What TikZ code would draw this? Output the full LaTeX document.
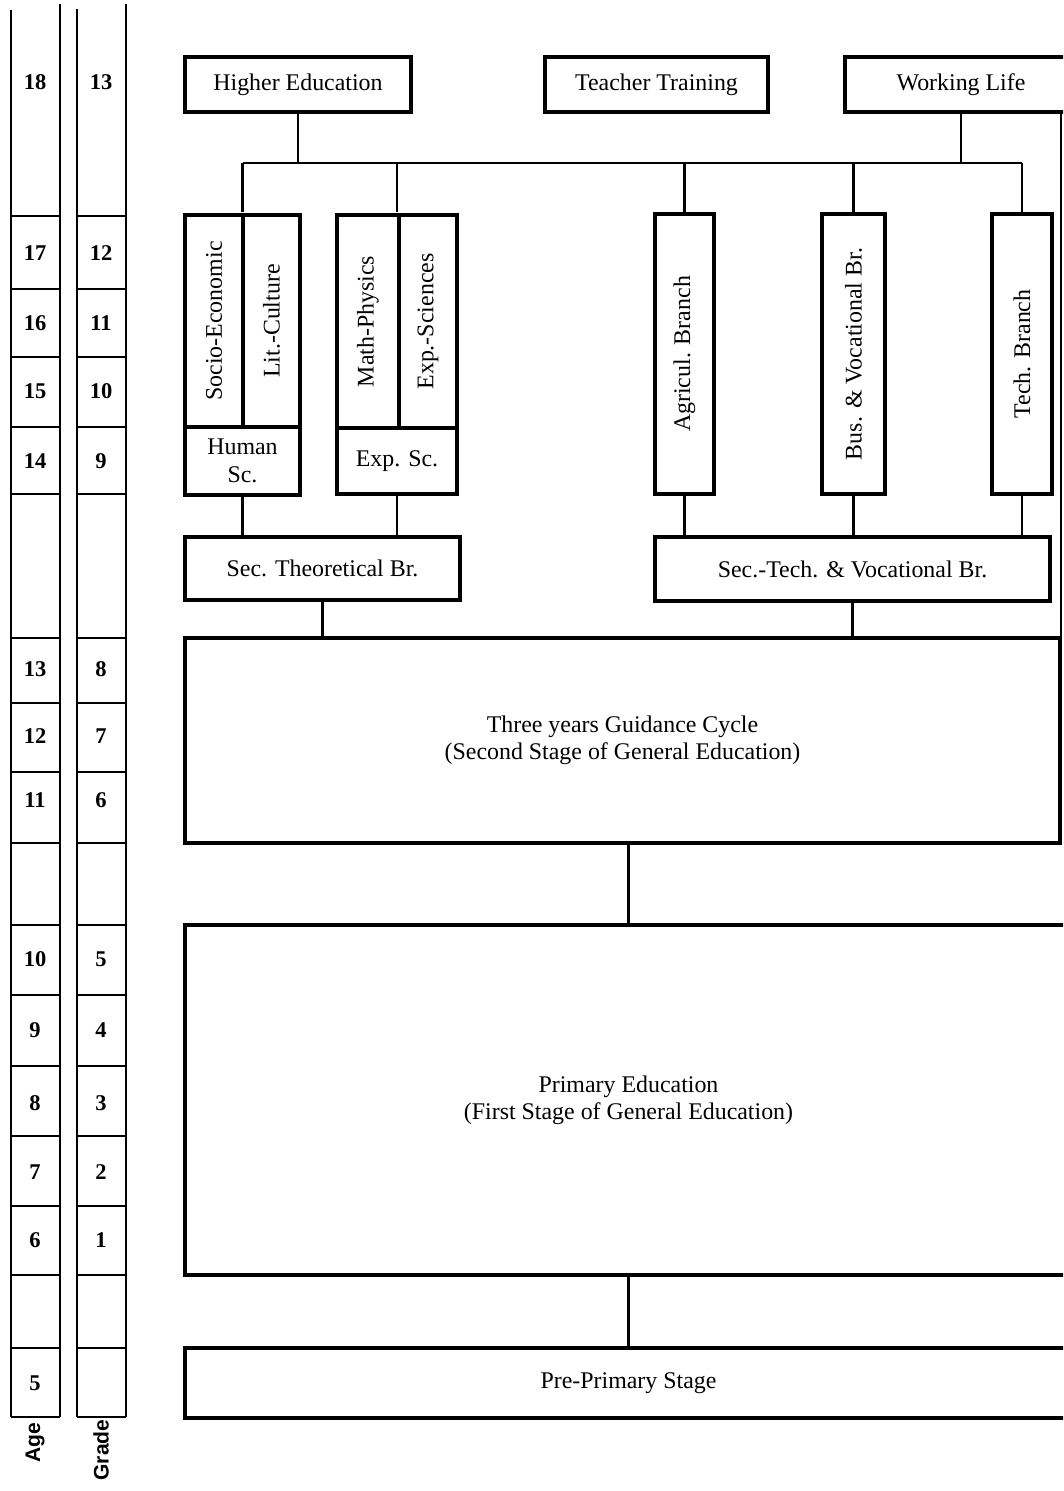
\documentclass[tikz,border=0pt]{standalone}
\usepackage{fontspec}
\setmainfont{Liberation Serif}
\setsansfont{Liberation Sans}
\usepackage{graphicx}
\usepackage{tikz}

\tikzset{
  box/.style={draw,line width=2.5pt,inner sep=0pt,align=center},
  conn/.style={line width=1.5pt},
  col/.style={line width=1.7pt},
  num/.style={font=\fontsize{16}{18}\selectfont\bfseries},
  axis label/.style={font=\fontsize{15}{17}\selectfont\sffamily\bfseries,rotate=90}
}

\begin{document}
\begin{tikzpicture}[x=0.25mm,y=-0.25mm,font=\fontsize{17}{19.5}\selectfont]
      \useasboundingbox (0,0) rectangle (1063,1491);
      \clip (0,0) rectangle (1063,1491);
      % age and grade columns
      \draw[col] (11,10) -- (11,1417) (60,4) -- (60,1417);
      \draw[col] (77,9) -- (77,1417) (126,4) -- (126,1417);
      \foreach \y in {216,289,357,427,494,638,703,772,843,925,995,1066,1136,1206,1275,1348,1417}
        \draw[col] (11,\y) -- (60,\y) (77,\y) -- (126,\y);
      \foreach \a/\g/\y in {18/13/82,17/12/253,16/11/323,15/10/391,14/9/461,13/8/669,12/7/736,11/6/800,10/5/959,9/4/1030,8/3/1103,7/2/1172,6/1/1240}{
        \node[num] (age\a) at (35,\y) {\a};
        \node[num] (grade\g) at (101,\y) {\g};
      }
      \node[num] (age5) at (35,1383) {5};
      \node[axis label] (agelab) at (35,1443) {Age};
      \node[axis label] (gradelab) at (101,1450) {Grade};
      % top row
      \node[box,minimum width=56.5mm,minimum height=13.75mm] (higher) at (298,84.5) {Higher Education};
      \node[box,minimum width=55.75mm,minimum height=13.75mm] (teacher) at (656.5,84.5) {Teacher Training};
      \node[box,minimum width=58mm,minimum height=13.75mm] (working) at (961,84.5) {Working Life};
      % branches
      \node[box,minimum width=14.5mm,minimum height=53mm] (socio) at (214,321) {\rotatebox{90}{Socio-Economic}};
      \node[box,minimum width=14.25mm,minimum height=53mm] (lit) at (271.5,321) {\rotatebox{90}{Lit.-Culture}};
      \node[box,minimum width=28.75mm,minimum height=17mm] (human) at (242.5,461) {Human\\Sc.};
      \node[box,minimum width=15.5mm,minimum height=53.25mm] (math) at (368,321.5) {\rotatebox{90}{Math-Physics}};
      \node[box,minimum width=14.5mm,minimum height=53.25mm] (expsci) at (428,321.5) {\rotatebox{90}{Exp.-Sciences}};
      \node[box,minimum width=30mm,minimum height=16.5mm] (expsc) at (397,461) {Exp. Sc.};
      \node[box,minimum width=14.75mm,minimum height=70mm] (agri) at (684.5,354) {\rotatebox{90}{Agricul. Branch}};
      \node[box,minimum width=15.75mm,minimum height=70mm] (bus) at (853.5,354) {\rotatebox{90}{Bus. \& Vocational Br.}};
      \node[box,minimum width=15mm,minimum height=70mm] (tech) at (1022,354) {\rotatebox{90}{Tech. Branch}};
      % secondary
      \node[box,minimum width=68.75mm,minimum height=15.75mm] (sectheo) at (322.5,568.5) {Sec. Theoretical Br.};
      \node[box,minimum width=98.75mm,minimum height=16mm] (sectech) at (852.5,569) {Sec.-Tech. \& Vocational Br.};
      % general education
      \node[box,minimum width=218.75mm,minimum height=51.25mm] (guid) at (622.5,740.5) {Three years Guidance Cycle\\(Second Stage of General Education)};
      \node[box,minimum width=221.75mm,minimum height=87.5mm] (prim) at (628.5,1100) {Primary Education\\(First Stage of General Education)};
      \node[box,minimum width=221.75mm,minimum height=17.5mm] (pre) at (628.5,1383) {Pre-Primary Stage};
      % connectors
      \coordinate (bar) at (0,163);
      \coordinate (rail) at (1061,0);
      \draw[conn] (higher.south) -- (higher.south |- bar);
      \draw[conn] (working.south) -- (working.south |- bar);
      \draw[conn] (human.north |- bar) -- (tech.north |- bar);
      \foreach \n in {human,expsc,agri,bus,tech}
        \draw[conn] (\n.north |- bar) -- (\n.north |- agri.north);
      \draw[conn] (working.south -| rail) -- (guid.north -| rail);
      \foreach \n in {human,expsc}
        \draw[conn] (\n.south) -- (\n.south |- sectheo.north);
      \foreach \n in {agri,bus,tech}
        \draw[conn] (\n.south) -- (\n.south |- sectech.north);
      \draw[conn] (sectheo.south) -- (sectheo.south |- guid.north);
      \draw[conn] (sectech.south) -- (sectech.south |- guid.north);
      \draw[conn] (prim.north |- guid.south) -- (prim.north);
      \draw[conn] (prim.south) -- (pre.north);
\end{tikzpicture}
\end{document}
